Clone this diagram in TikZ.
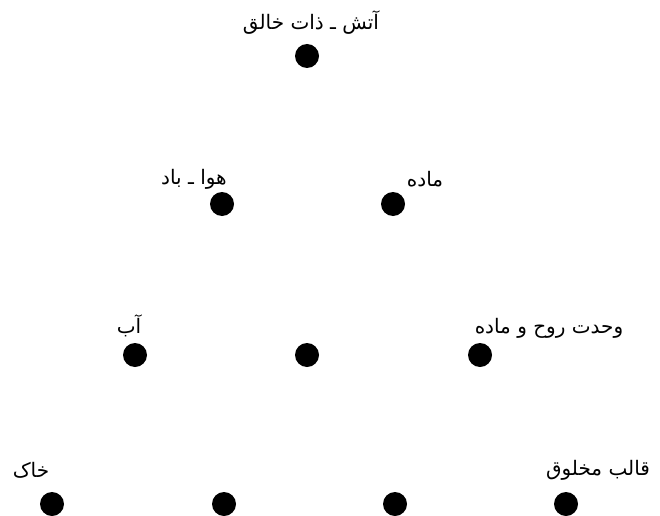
\documentclass[tikz,border=0pt]{standalone}
\usepackage{fontspec}
\newfontfamily\arabicfont[Script=Arabic]{DejaVu Sans}
\TeXXeTstate=1
\begin{document}
\begin{tikzpicture}[x=1pt,y=1pt,
  dot/.style={circle,fill=black,inner sep=0pt,minimum size=24pt},
  lbl/.style={inner sep=0pt,font=\arabicfont\fontsize{20}{24}\selectfont}]
\useasboundingbox (0,0) rectangle (660,515);
% dots (y = 515 - pixel y)
\node[dot] (fire) at (307,459) {};
\node[dot] (air) at (222,311) {};
\node[dot] (matter) at (393,311) {};
\node[dot] (water) at (135,160) {};
\node[dot] (mid) at (307,160) {};
\node[dot] (unity) at (480,160) {};
\node[dot] (earth) at (52,11) {};
\node[dot] (b2) at (224,11) {};
\node[dot] (b3) at (395,11) {};
\node[dot] (form) at (566,11) {};
% labels
\node[lbl] (tfire) at (311,492) {\beginR آتش ـ ذات خالق\endR};
\node[lbl] (tair) at (194,336) {\beginR هوا ـ باد\endR};
\node[lbl] (tmatter) at (425,336) {\beginR ماده\endR};
\node[lbl] (twater) at (129,189) {\beginR آب\endR};
\node[lbl] (tunity) at (549,187) {\beginR وحدت روح و ماده\endR};
\node[lbl] (tearth) at (31,45) {\beginR خاک\endR};
\node[lbl] (tform) at (598,45) {\beginR قالب مخلوق\endR};
\end{tikzpicture}
\end{document}
